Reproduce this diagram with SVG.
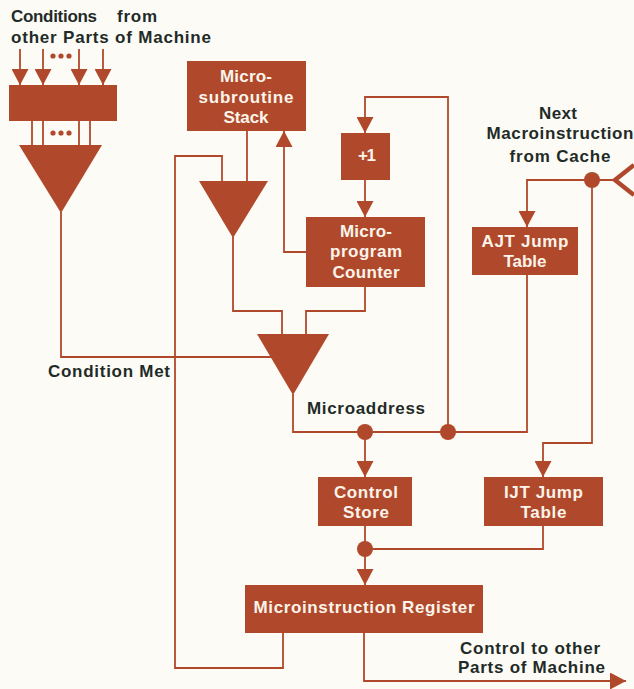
<svg xmlns="http://www.w3.org/2000/svg" width="634" height="689" viewBox="0 0 634 689">
  <defs>
    <style>
      .bg { fill: #fdfbf5; }
      .blk { fill: #b0492b; }
      .wire { fill: none; stroke: #b0492b; stroke-width: 1.8; }
      .fork { fill: none; stroke: #b0492b; stroke-width: 4.5; stroke-linejoin: miter; }
      .lbl { font-family: "Liberation Sans", Arial, sans-serif; font-weight: bold; font-size: 17px; fill: #1f2b28; }
      .in { font-family: "Liberation Sans", Arial, sans-serif; font-weight: bold; font-size: 17px; fill: #fbf4ea; text-anchor: middle; }
    </style>
    <marker id="arrow" viewBox="0 0 16 17" refX="16" refY="8.5" markerWidth="16" markerHeight="17" markerUnits="userSpaceOnUse" orient="auto">
      <path d="M0,0 L16,8.5 L0,17 z" fill="#b0492b"/>
    </marker>
  </defs>

  <rect class="bg" x="0" y="0" width="634" height="689"/>

  <!-- connectors -->
  <g id="connectors">
    <!-- condition inputs -->
    <path class="wire" d="M20,49 V85" marker-end="url(#arrow)"/>
    <path class="wire" d="M43,49 V85" marker-end="url(#arrow)"/>
    <path class="wire" d="M79,49 V85" marker-end="url(#arrow)"/>
    <path class="wire" d="M103,49 V85" marker-end="url(#arrow)"/>
    <!-- register to selector -->
    <path class="wire" d="M32,121 V145 M43,121 V145 M79,121 V145 M90,121 V145"/>
    <!-- condition met -->
    <path class="wire" d="M61,212 V357 H272"/>
    <!-- return from microinstruction register -->
    <path class="wire" d="M283,633 V668 H175 V156 H222 V182"/>
    <!-- stack to selector -->
    <path class="wire" d="M247,131 V182"/>
    <!-- subroutine selector to address selector -->
    <path class="wire" d="M233,237 V311 H282 V335"/>
    <!-- counter to address selector -->
    <path class="wire" d="M365,287 V311 H306 V335"/>
    <!-- counter to stack -->
    <path class="wire" d="M306,252 H284 V131" marker-end="url(#arrow)"/>
    <!-- increment loop -->
    <path class="wire" d="M448,432 V97 H365 V133" marker-end="url(#arrow)"/>
    <path class="wire" d="M365,180 V217" marker-end="url(#arrow)"/>
    <!-- microaddress bus -->
    <path class="wire" d="M293,394 V432 H527 V275"/>
    <path class="wire" d="M365,432 V477" marker-end="url(#arrow)"/>
    <!-- next macroinstruction -->
    <path class="wire" d="M615,180 H527 V227" marker-end="url(#arrow)"/>
    <path class="wire" d="M592,180 V443 H543 V477" marker-end="url(#arrow)"/>
    <path class="fork" d="M634,165 L615,180 L634,195"/>
    <!-- control store / IJT to register -->
    <path class="wire" d="M543,526 V549 H365"/>
    <path class="wire" d="M365,526 V585" marker-end="url(#arrow)"/>
    <!-- control out -->
    <path class="wire" d="M364,633 V681 H626" marker-end="url(#arrow)"/>
    <!-- junction dots -->
    <circle class="blk" cx="365" cy="432" r="8"/>
    <circle class="blk" cx="448" cy="432" r="8"/>
    <circle class="blk" cx="592" cy="180" r="8"/>
    <circle class="blk" cx="365" cy="549" r="8"/>
  </g>

  <!-- condition inputs label -->
  <g id="conditions-label">
    <text class="lbl" x="11" y="22" textLength="86" lengthAdjust="spacing">Conditions</text>
    <text class="lbl" x="117" y="22" textLength="40" lengthAdjust="spacing">from</text>
    <text class="lbl" x="11" y="43" textLength="200" lengthAdjust="spacing">other Parts of Machine</text>
  </g>

  <!-- condition register, with ellipsis dots for further inputs/outputs -->
  <g id="condition-register">
    <rect class="blk" x="9" y="85" width="108" height="36"/>
    <circle cx="53" cy="56" r="2.6" class="blk"/>
    <circle cx="61" cy="56" r="2.6" class="blk"/>
    <circle cx="69" cy="56" r="2.6" class="blk"/>
    <circle cx="53" cy="133" r="2.6" class="blk"/>
    <circle cx="61" cy="133" r="2.6" class="blk"/>
    <circle cx="69" cy="133" r="2.6" class="blk"/>
  </g>

  <!-- condition selector -->
  <g id="condition-select">
    <polygon class="blk" points="19,145 102,145 61,213"/>
  </g>

  <!-- micro-subroutine stack -->
  <g id="stack">
    <rect class="blk" x="187" y="61" width="119" height="70"/>
    <text class="in" x="246" y="82" textLength="52" lengthAdjust="spacing">Micro-</text>
    <text class="in" x="246" y="103" textLength="95" lengthAdjust="spacing">subroutine</text>
    <text class="in" x="246" y="123" textLength="45" lengthAdjust="spacing">Stack</text>
  </g>

  <!-- subroutine return selector -->
  <g id="return-select">
    <polygon class="blk" points="199,181 268,181 233,238"/>
  </g>

  <!-- incrementer -->
  <g id="increment">
    <rect class="blk" x="341" y="133" width="49" height="47"/>
    <text class="in" x="367" y="161" textLength="18" lengthAdjust="spacing">+1</text>
  </g>

  <!-- microprogram counter -->
  <g id="counter">
    <rect class="blk" x="306" y="217" width="119" height="70"/>
    <text class="in" x="366" y="237" textLength="52" lengthAdjust="spacing">Micro-</text>
    <text class="in" x="366" y="257" textLength="72" lengthAdjust="spacing">program</text>
    <text class="in" x="366" y="278" textLength="67" lengthAdjust="spacing">Counter</text>
  </g>

  <!-- address selector -->
  <g id="address-select">
    <polygon class="blk" points="257,334 329,334 293,395"/>
  </g>

  <!-- AJT jump table -->
  <g id="ajt">
    <rect class="blk" x="472" y="227" width="106" height="48"/>
    <text class="in" x="525" y="247" textLength="87" lengthAdjust="spacing">AJT Jump</text>
    <text class="in" x="525" y="267" textLength="43" lengthAdjust="spacing">Table</text>
  </g>

  <!-- next macroinstruction label -->
  <g id="next-label">
    <text class="lbl" x="558" y="119" text-anchor="middle" textLength="38" lengthAdjust="spacing">Next</text>
    <text class="lbl" x="560" y="139" text-anchor="middle" textLength="147" lengthAdjust="spacing">Macroinstruction</text>
    <text class="lbl" x="560" y="162" text-anchor="middle" textLength="101" lengthAdjust="spacing">from Cache</text>
  </g>

  <!-- bus labels -->
  <g id="labels">
    <text class="lbl" x="48" y="377" textLength="122" lengthAdjust="spacing">Condition Met</text>
    <text class="lbl" x="307" y="414" textLength="118" lengthAdjust="spacing">Microaddress</text>
    <text class="lbl" x="460" y="654" textLength="140" lengthAdjust="spacing">Control to other</text>
    <text class="lbl" x="458" y="673" textLength="147" lengthAdjust="spacing">Parts of Machine</text>
  </g>

  <!-- control store -->
  <g id="control-store">
    <rect class="blk" x="318" y="477" width="94" height="49"/>
    <text class="in" x="366" y="498" textLength="64" lengthAdjust="spacing">Control</text>
    <text class="in" x="366" y="518" textLength="46" lengthAdjust="spacing">Store</text>
  </g>

  <!-- IJT jump table -->
  <g id="ijt">
    <rect class="blk" x="484" y="477" width="119" height="49"/>
    <text class="in" x="543.5" y="498" textLength="79" lengthAdjust="spacing">IJT Jump</text>
    <text class="in" x="543.5" y="518" textLength="46" lengthAdjust="spacing">Table</text>
  </g>

  <!-- microinstruction register -->
  <g id="mir">
    <rect class="blk" x="245" y="585" width="238" height="48"/>
    <text class="in" x="364" y="613" textLength="221" lengthAdjust="spacing">Microinstruction Register</text>
  </g>
</svg>
